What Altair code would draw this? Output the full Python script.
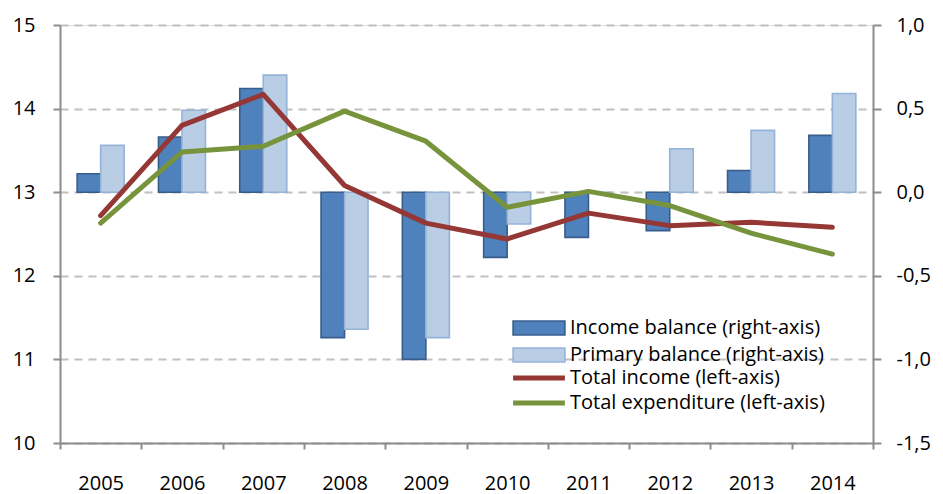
import altair as alt
import pandas as pd

years = ["2005", "2006", "2007", "2008", "2009", "2010", "2011", "2012", "2013", "2014"]
income_balance = [0.11, 0.33, 0.62, -0.87, -1.00, -0.39, -0.27, -0.23, 0.13, 0.34]
primary_balance = [0.28, 0.49, 0.70, -0.82, -0.87, -0.19, 0.0, 0.26, 0.37, 0.59]
total_income = [12.72, 13.80, 14.17, 13.08, 12.63, 12.44, 12.75, 12.60, 12.64, 12.58]
total_expenditure = [12.63, 13.48, 13.55, 13.97, 13.61, 12.82, 13.01, 12.84, 12.51, 12.26]

bar_names = ["Income balance (right-axis)", "Primary balance (right-axis)"]
line_names = ["Total income (left-axis)", "Total expenditure (left-axis)"]

bars = pd.DataFrame({
    "year": years * 2,
    "series": [bar_names[0]] * len(years) + [bar_names[1]] * len(years),
    "value": income_balance + primary_balance,
})
lines = pd.DataFrame({
    "year": years * 2,
    "series": [line_names[0]] * len(years) + [line_names[1]] * len(years),
    "value": total_income + total_expenditure,
})

FONT = "Open Sans"
FS = 20

x_enc = alt.X(
    "year:N",
    sort=years,
    scale=alt.Scale(paddingInner=0, paddingOuter=0),
    axis=alt.Axis(
        title=None, labelAngle=0, tickBand="extent", tickSize=6,
        tickColor="#8c8c8c", domainColor="#8c8c8c", domainWidth=2, tickWidth=2,
        labelPadding=24, labelFontSize=FS, labelFont=FONT, labelColor="#000",
        grid=False,
    ),
)

legend_common = dict(
    title=None, orient="none", padding=0, symbolSize=196,
    labelFontSize=FS, labelFont=FONT, labelColor="#000", labelLimit=400,
    rowPadding=5, symbolOffset=19, labelOffset=21,
)

bar_layer = alt.Chart(bars).mark_bar(strokeWidth=1.6).encode(
    x=x_enc,
    xOffset=alt.XOffset("series:N", sort=bar_names,
                        scale=alt.Scale(domain=bar_names, paddingInner=0, paddingOuter=0.73)),
    y=alt.Y(
        "value:Q",
        scale=alt.Scale(domain=[-1.5, 1.0], nice=False, zero=False),
        axis=alt.Axis(
            orient="right", title=None, values=[-1.5, -1.0, -0.5, 0.0, 0.5, 1.0],
            labelExpr="(datum.value < 0 ? '-' : '') + replace(format(abs(datum.value), '.1f'), '.', ',')",
            tickSize=8, tickColor="#8c8c8c", tickWidth=2, domainColor="#8c8c8c", domainWidth=2,
            labelPadding=15, labelFontSize=FS, labelFont=FONT, labelColor="#000", grid=False,
        ),
    ),
    fill=alt.Fill(
        "series:N",
        scale=alt.Scale(domain=bar_names, range=["#4F81BD", "#B9CDE5"]),
        legend=alt.Legend(
            legendX=450, legendY=293,
            symbolType="M-3.7,-1H3.7V1H-3.7Z",
            symbolStrokeWidth=1.6,
            symbolStrokeColor=alt.ExprRef("datum.value == 'Income balance (right-axis)' ? '#385D8A' : '#95B3D7'"),
            **legend_common,
        ),
    ),
    stroke=alt.condition(alt.datum.series == bar_names[0], alt.value("#385D8A"), alt.value("#95B3D7")),
)

line_layer = alt.Chart(lines).mark_line(strokeWidth=5, strokeCap="round", strokeJoin="round").encode(
    x=x_enc,
    y=alt.Y(
        "value:Q",
        scale=alt.Scale(domain=[10, 15], nice=False, zero=False),
        axis=alt.Axis(
            orient="left", title=None, values=[10, 11, 12, 13, 14, 15],
            tickSize=7, tickColor="#8c8c8c", tickWidth=2, domainColor="#8c8c8c", domainWidth=2,
            labelPadding=18, labelFontSize=FS, labelFont=FONT, labelColor="#000",
            grid=True, gridColor="#c0c0c0", gridDash=[8, 6], gridWidth=2,
        ),
    ),
    stroke=alt.Stroke(
        "series:N",
        scale=alt.Scale(domain=line_names, range=["#953735", "#77933C"]),
        legend=alt.Legend(
            legendX=450, legendY=343,
            symbolType="M-3.7,0H3.7", symbolStrokeWidth=5,
            **legend_common,
        ),
    ),
)

chart = alt.layer(bar_layer, line_layer).resolve_scale(
    y="independent", fill="independent", stroke="independent"
).properties(
    width=813, height=418,
    autosize=alt.AutoSizeParams(type="none"),
    padding={"left": 52, "top": 17, "right": 62, "bottom": 51},
).configure_view(stroke=None).configure(background="white")

chart.save("out.html", embed_options={"renderer": "svg", "actions": False})
